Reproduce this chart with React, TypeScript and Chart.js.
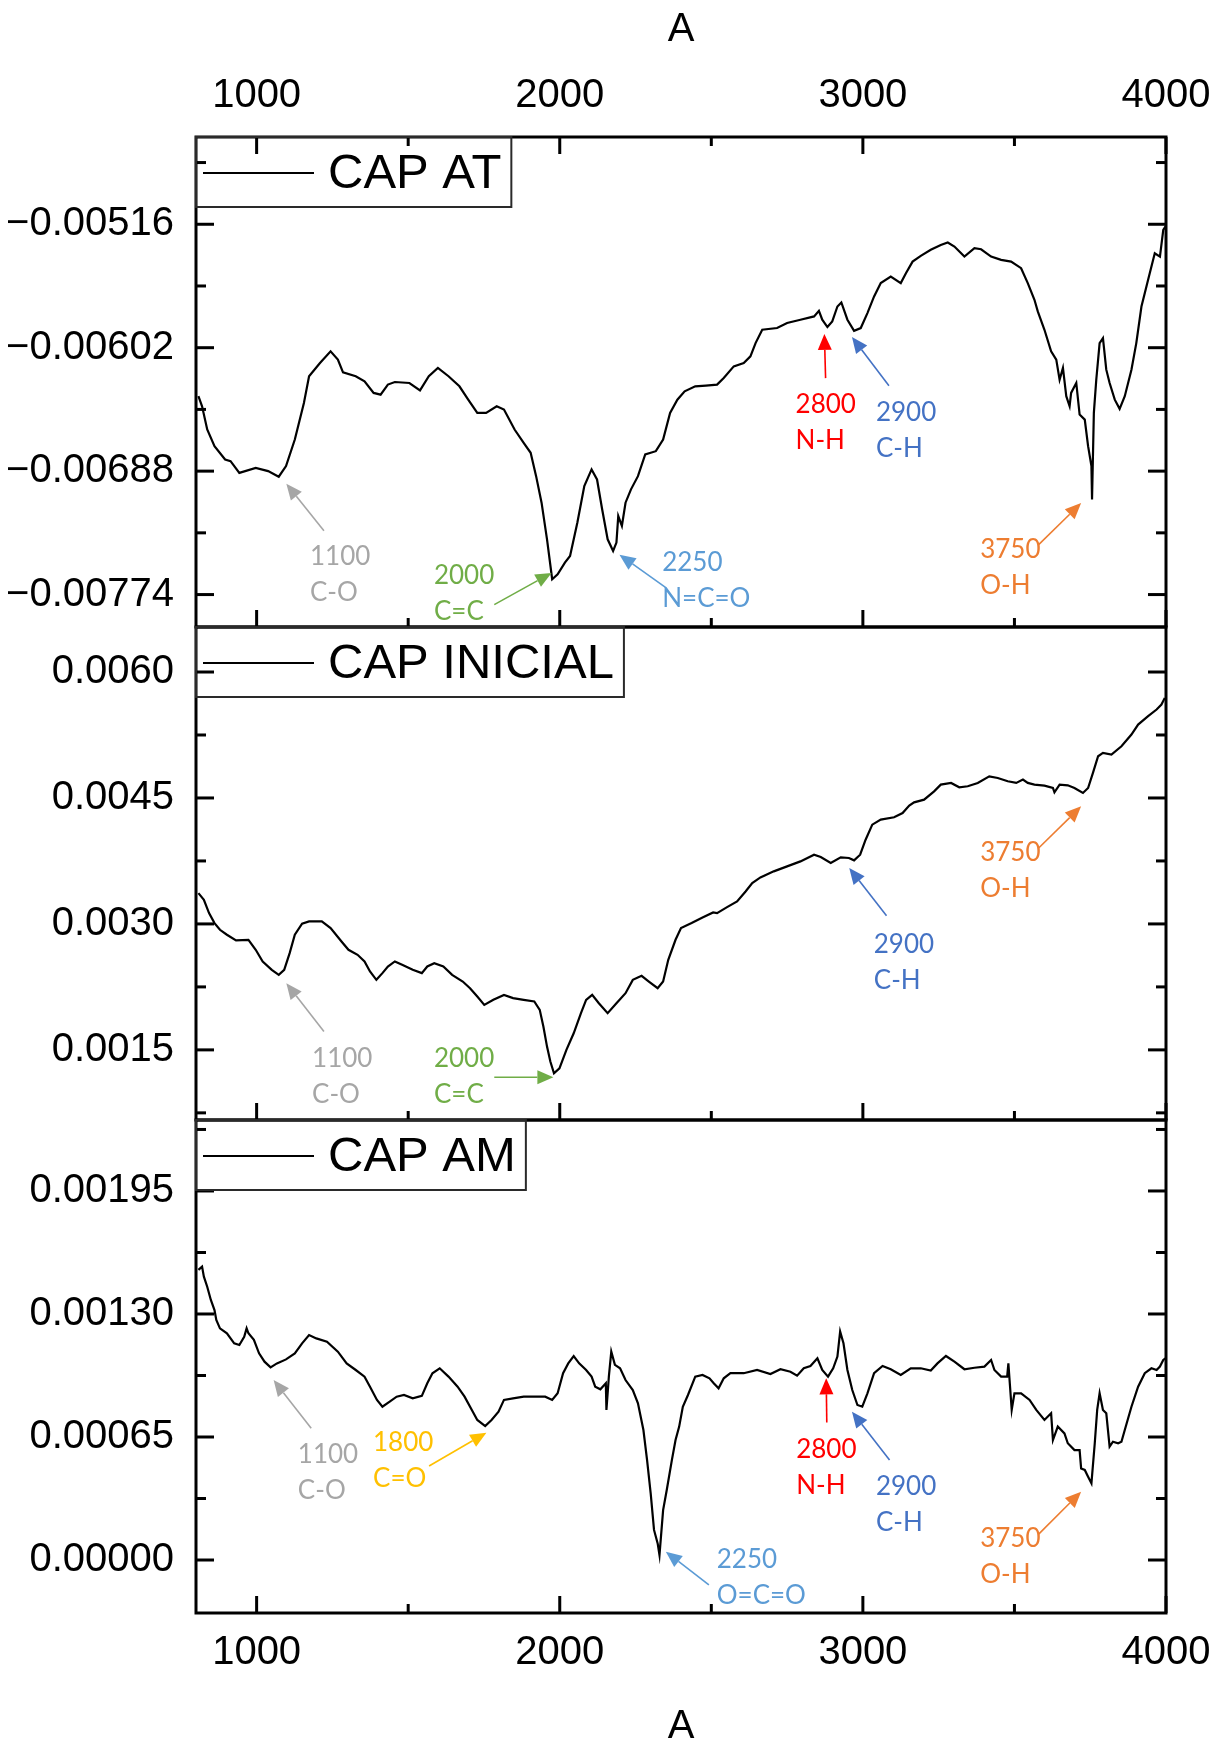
import { useEffect, useRef } from 'react';
import { Chart, registerables } from 'chart.js';

Chart.register(...registerables);

const AXIS_FONT = '"Liberation Sans", Arial, sans-serif';
const NOTE_FONT = 'Lato, "Open Sans", sans-serif';

// Shared wavenumber axis
const xRange = [800, 4000];
const xMajorTicks = [1000, 2000, 3000, 4000];
const xMinorTicks = [1500, 2500, 3500];

// Annotation colours
const GRAY = '#A6A6A6';
const GREEN = '#70AD47';
const LIGHT_BLUE = '#5B9BD5';
const RED = '#FF0000';
const BLUE = '#4472C4';
const ORANGE = '#ED7D31';
const YELLOW = '#FFC000';

// ---- CAP AT ----
const capAtWavenumber = [
  808, 820, 837, 861, 896, 914, 943, 997, 1038, 1073,
  1097, 1126, 1156, 1173, 1209, 1244, 1268, 1285, 1327, 1356,
  1386, 1409, 1433, 1456, 1504, 1539, 1568, 1598, 1633, 1669,
  1698, 1728, 1757, 1792, 1816, 1851, 1881, 1904, 1922, 1940,
  1958, 1975, 1993, 2017, 2034, 2058, 2081, 2105, 2123, 2140,
  2158, 2176, 2187, 2193, 2205, 2217, 2235, 2258, 2282, 2317,
  2341, 2364, 2388, 2412, 2447, 2482, 2519, 2541, 2574, 2607,
  2629, 2646, 2668, 2717, 2750, 2794, 2839, 2855, 2866, 2883,
  2899, 2916, 2929, 2949, 2971, 2993, 3015, 3037, 3059, 3092,
  3125, 3142, 3164, 3191, 3224, 3257, 3280, 3302, 3335, 3368,
  3390, 3423, 3456, 3489, 3522, 3544, 3566, 3577, 3599, 3621,
  3638, 3649, 3660, 3671, 3682, 3687, 3704, 3715, 3732, 3743,
  3754, 3756, 3762, 3770, 3781, 3792, 3803, 3814, 3831, 3847,
  3864, 3886, 3902, 3919, 3941, 3963, 3980, 3991, 3998,
];
const capAtAbsorbance = [
  -0.006358, -0.006428, -0.006590, -0.006706, -0.006799, -0.006810, -0.006892, -0.006857, -0.006880, -0.006919,
  -0.006845, -0.006660, -0.006405, -0.006219, -0.006127, -0.006045, -0.006103, -0.006192, -0.006219, -0.006254,
  -0.006335, -0.006347, -0.006277, -0.006259, -0.006266, -0.006317, -0.006219, -0.006161, -0.006219, -0.006289,
  -0.006382, -0.006474, -0.006474, -0.006428, -0.006451, -0.006590, -0.006683, -0.006752, -0.006915, -0.007100,
  -0.007355, -0.007633, -0.007599, -0.007517, -0.007471, -0.007239, -0.006984, -0.006868, -0.006938, -0.007147,
  -0.007355, -0.007436, -0.007378, -0.007193, -0.007262, -0.007100, -0.007007, -0.006915, -0.006764, -0.006741,
  -0.006660, -0.006474, -0.006382, -0.006324, -0.006289, -0.006284, -0.006277, -0.006231, -0.006150, -0.006127,
  -0.006080, -0.005988, -0.005895, -0.005883, -0.005848, -0.005825, -0.005802, -0.005763, -0.005825, -0.005876,
  -0.005837, -0.005733, -0.005705, -0.005825, -0.005902, -0.005883, -0.005779, -0.005663, -0.005570, -0.005524,
  -0.005570, -0.005501, -0.005420, -0.005380, -0.005338, -0.005304, -0.005287, -0.005315, -0.005385, -0.005327,
  -0.005334, -0.005385, -0.005408, -0.005420, -0.005466, -0.005570, -0.005686, -0.005767, -0.005895, -0.006045,
  -0.006103, -0.006243, -0.006161, -0.006358, -0.006428, -0.006335, -0.006266, -0.006486, -0.006521, -0.006706,
  -0.006845, -0.007077, -0.006474, -0.006243, -0.005988, -0.005953, -0.006173, -0.006266, -0.006382, -0.006446,
  -0.006358, -0.006173, -0.005988, -0.005733, -0.005547, -0.005362, -0.005385, -0.005199, -0.005176,
];
const capAtTicks = [-0.00516, -0.00602, -0.00688, -0.00774];
const capAtMinorTicks = [-0.00473, -0.00559, -0.00645, -0.00731];

// ---- CAP INICIAL ----
const capInicialWavenumber = [
  808, 826, 843, 861, 879, 902, 932, 973, 997, 1020,
  1050, 1073, 1091, 1109, 1126, 1150, 1173, 1215, 1244, 1280,
  1303, 1333, 1356, 1374, 1395, 1415, 1433, 1456, 1480, 1515,
  1545, 1563, 1586, 1616, 1645, 1680, 1704, 1728, 1751, 1781,
  1816, 1846, 1881, 1916, 1934, 1946, 1958, 1969, 1981, 1999,
  2022, 2046, 2070, 2087, 2107, 2129, 2158, 2187, 2217, 2241,
  2270, 2294, 2323, 2341, 2358, 2382, 2400, 2435, 2471, 2506,
  2519, 2552, 2585, 2613, 2635, 2662, 2706, 2750, 2794, 2839,
  2861, 2894, 2927, 2954, 2971, 2991, 3009, 3031, 3059, 3103,
  3131, 3153, 3169, 3202, 3235, 3257, 3291, 3318, 3346, 3379,
  3417, 3445, 3478, 3506, 3528, 3544, 3566, 3599, 3627, 3632,
  3649, 3676, 3698, 3726, 3743, 3759, 3776, 3792, 3820, 3853,
  3886, 3908, 3941, 3969, 3985, 3996,
];
const capInicialAbsorbance = [
  0.003367, 0.003288, 0.003129, 0.003010, 0.002930, 0.002871, 0.002803, 0.002811, 0.002692, 0.002553,
  0.002453, 0.002394, 0.002453, 0.002652, 0.002871, 0.003002, 0.003030, 0.003030, 0.002950, 0.002791,
  0.002692, 0.002632, 0.002553, 0.002434, 0.002334, 0.002414, 0.002493, 0.002553, 0.002513, 0.002453,
  0.002414, 0.002493, 0.002533, 0.002493, 0.002394, 0.002314, 0.002235, 0.002135, 0.002036, 0.002096,
  0.002155, 0.002116, 0.002096, 0.002076, 0.001977, 0.001778, 0.001539, 0.001361, 0.001221, 0.001281,
  0.001500, 0.001698, 0.001937, 0.002096, 0.002155, 0.002056, 0.001937, 0.002056, 0.002175, 0.002334,
  0.002382, 0.002314, 0.002235, 0.002314, 0.002573, 0.002811, 0.002950, 0.003010, 0.003077, 0.003137,
  0.003129, 0.003200, 0.003268, 0.003387, 0.003487, 0.003554, 0.003626, 0.003685, 0.003745, 0.003824,
  0.003797, 0.003725, 0.003793, 0.003785, 0.003757, 0.003824, 0.004003, 0.004182, 0.004242, 0.004270,
  0.004321, 0.004409, 0.004448, 0.004480, 0.004579, 0.004659, 0.004679, 0.004627, 0.004639, 0.004679,
  0.004758, 0.004738, 0.004699, 0.004679, 0.004719, 0.004679, 0.004659, 0.004647, 0.004619, 0.004568,
  0.004659, 0.004651, 0.004619, 0.004560, 0.004619, 0.004798, 0.004997, 0.005036, 0.005017, 0.005116,
  0.005255, 0.005374, 0.005474, 0.005553, 0.005613, 0.005692,
];
const capInicialTicks = [0.0015, 0.003, 0.0045, 0.006];
const capInicialMinorTicks = [0.00075, 0.00225, 0.00375, 0.00525];

// ---- CAP AM ----
const capAmWavenumber = [
  808, 820, 826, 837, 849, 861, 867, 879, 902, 926,
  943, 959, 967, 973, 991, 1008, 1026, 1046, 1067, 1097,
  1126, 1150, 1173, 1197, 1232, 1268, 1297, 1327, 1356, 1374,
  1397, 1415, 1439, 1462, 1486, 1515, 1545, 1563, 1580, 1604,
  1633, 1663, 1686, 1710, 1728, 1754, 1775, 1798, 1816, 1846,
  1881, 1916, 1952, 1975, 1993, 2011, 2028, 2046, 2064, 2087,
  2105, 2117, 2134, 2152, 2154, 2162, 2170, 2182, 2199, 2217,
  2241, 2258, 2276, 2288, 2300, 2311, 2323, 2329, 2341, 2353,
  2370, 2382, 2394, 2406, 2423, 2447, 2471, 2494, 2508, 2524,
  2541, 2563, 2607, 2651, 2695, 2728, 2761, 2783, 2805, 2827,
  2850, 2866, 2885, 2902, 2916, 2925, 2936, 2949, 2965, 2982,
  2998, 3015, 3037, 3065, 3092, 3125, 3158, 3191, 3224, 3246,
  3274, 3302, 3335, 3368, 3401, 3423, 3434, 3456, 3476, 3480,
  3491, 3500, 3522, 3550, 3572, 3599, 3621, 3627, 3643, 3665,
  3676, 3698, 3715, 3720, 3732, 3743, 3754, 3765, 3773, 3781,
  3792, 3803, 3814, 3825, 3842, 3853, 3864, 3886, 3908, 3930,
  3952, 3969, 3980, 3991, 3998,
];
const capAmAbsorbance = [
  0.001533, 0.001550, 0.001497, 0.001444, 0.001374, 0.001321, 0.001268, 0.001224, 0.001198, 0.001145,
  0.001136, 0.001180, 0.001224, 0.001198, 0.001163, 0.001092, 0.001048, 0.001018, 0.001039, 0.001060,
  0.001092, 0.001145, 0.001189, 0.001171, 0.001154, 0.001101, 0.001039, 0.001004, 0.000969, 0.000916,
  0.000846, 0.000810, 0.000837, 0.000863, 0.000872, 0.000854, 0.000867, 0.000934, 0.000987, 0.001013,
  0.000969, 0.000916, 0.000863, 0.000793, 0.000740, 0.000708, 0.000740, 0.000784, 0.000846, 0.000854,
  0.000863, 0.000863, 0.000863, 0.000846, 0.000881, 0.000987, 0.001039, 0.001078, 0.001039, 0.001004,
  0.000969, 0.000916, 0.000902, 0.000934, 0.000793, 0.000969, 0.001101, 0.001031, 0.001013, 0.000951,
  0.000898, 0.000828, 0.000687, 0.000529, 0.000352, 0.000159, 0.000088, 0.000026, 0.000264, 0.000370,
  0.000529, 0.000634, 0.000705, 0.000810, 0.000872, 0.000969, 0.000978, 0.000960, 0.000934, 0.000907,
  0.000960, 0.000987, 0.000987, 0.001004, 0.000983, 0.001008, 0.000995, 0.000974, 0.001013, 0.001025,
  0.001066, 0.001004, 0.000969, 0.001013, 0.001075, 0.001207, 0.001145, 0.001004, 0.000898, 0.000819,
  0.000810, 0.000881, 0.000987, 0.001025, 0.001008, 0.000978, 0.001013, 0.001013, 0.001001, 0.001039,
  0.001078, 0.001048, 0.001008, 0.001016, 0.001022, 0.001057, 0.001004, 0.000969, 0.000969, 0.001039,
  0.000793, 0.000881, 0.000881, 0.000846, 0.000793, 0.000740, 0.000775, 0.000634, 0.000705, 0.000669,
  0.000617, 0.000581, 0.000581, 0.000484, 0.000476, 0.000440, 0.000405, 0.000617, 0.000793, 0.000881,
  0.000793, 0.000775, 0.000599, 0.000625, 0.000617, 0.000625, 0.000687, 0.000810, 0.000916, 0.000987,
  0.001013, 0.001004, 0.001022, 0.001057, 0.001066,
];
const capAmTicks = [0, 0.00065, 0.0013, 0.00195];
const capAmMinorTicks = [0.000325, 0.000975, 0.001625, 0.002275];

type Pt = [number, number];
interface Band {
  band: string;
  group: string;
  color: string;
  text: Pt;
  from: Pt;
  to: Pt;
}

// Band assignments: text anchor and arrow, in (wavenumber, absorbance)
const capAtBands: Band[] = [
  { band: '1100', group: 'C-O', color: GRAY, text: [1176, -0.007474], from: [1222, -0.007295], to: [1098, -0.006968] },
  { band: '2000', group: 'C=C', color: GREEN, text: [1585, -0.007608], from: [1784, -0.00781], to: [1973, -0.007589] },
  { band: '2250', group: 'N=C=O', color: LIGHT_BLUE, text: [2338, -0.007517], from: [2350, -0.007691], to: [2197, -0.007462] },
  { band: '2800', group: 'N-H', color: RED, text: [2778, -0.006418], from: [2877, -0.006232], to: [2873, -0.005924] },
  { band: '2900', group: 'C-H', color: BLUE, text: [3043, -0.006471], from: [3086, -0.006285], to: [2964, -0.005946] },
  { band: '3750', group: 'O-H', color: ORANGE, text: [3387, -0.007427], from: [3580, -0.007392], to: [3720, -0.007102] },
];
const capInicialBands: Band[] = [
  { band: '1100', group: 'C-O', color: GRAY, text: [1183, 0.001401], from: [1222, 0.001718], to: [1098, 0.002295] },
  { band: '2000', group: 'C=C', color: GREEN, text: [1585, 0.001401], from: [1784, 0.001174], to: [1979, 0.001174] },
  { band: '2900', group: 'C-H', color: BLUE, text: [3036, 0.002751], from: [3078, 0.003097], to: [2955, 0.003666] },
  { band: '3750', group: 'O-H', color: ORANGE, text: [3387, 0.003844], from: [3580, 0.003904], to: [3720, 0.0044] },
];
const capAmBands: Band[] = [
  { band: '1100', group: 'C-O', color: GRAY, text: [1136, 0.000559], from: [1180, 0.000696], to: [1056, 0.000951] },
  { band: '1800', group: 'C=O', color: YELLOW, text: [1384, 0.000618], from: [1569, 0.000497], to: [1758, 0.000673] },
  { band: '2250', group: 'O=C=O', color: LIGHT_BLUE, text: [2518, 0.0], from: [2492, -0.000132], to: [2350, 0.000044] },
  { band: '2800', group: 'N-H', color: RED, text: [2780, 0.000581], from: [2881, 0.000726], to: [2879, 0.00096] },
  { band: '2900', group: 'C-H', color: BLUE, text: [3043, 0.000387], from: [3088, 0.000528], to: [2964, 0.000784] },
  { band: '3750', group: 'O-H', color: ORANGE, text: [3387, 0.000115], from: [3580, 0.000137], to: [3720, 0.000361] },
];

interface PanelSpec {
  label: string;
  x: number[];
  y: number[];
  yMin: number;
  yMax: number;
  yTicks: number[];
  yMinor: number[];
  decimals: number;
  bands: Band[];
  xAxis: 'top' | 'bottom' | 'none';
  canvasTop: number;
  canvasHeight: number;
  padTop: number;
  padBottom: number;
  axisHeight: number;
}

const panels: PanelSpec[] = [
  {
    label: 'CAP AT', x: capAtWavenumber, y: capAtAbsorbance,
    yMin: -0.007966, yMax: -0.004552, yTicks: capAtTicks, yMinor: capAtMinorTicks, decimals: 5,
    bands: capAtBands, xAxis: 'top', canvasTop: 0, canvasHeight: 640, padTop: 0, padBottom: 13, axisHeight: 137,
  },
  {
    label: 'CAP INICIAL', x: capInicialWavenumber, y: capInicialAbsorbance,
    yMin: 0.000665, yMax: 0.006536, yTicks: capInicialTicks, yMinor: capInicialMinorTicks, decimals: 4,
    bands: capInicialBands, xAxis: 'none', canvasTop: 600, canvasHeight: 540, padTop: 27, padBottom: 20, axisHeight: 0,
  },
  {
    label: 'CAP AM', x: capAmWavenumber, y: capAmAbsorbance,
    yMin: -0.00028, yMax: 0.002325, yTicks: capAmTicks, yMinor: capAmMinorTicks, decimals: 5,
    bands: capAmBands, xAxis: 'bottom', canvasTop: 1100, canvasHeight: 647, padTop: 20, padBottom: 0, axisHeight: 134,
  },
];

function formatValue(v: number, decimals: number): string {
  const s = Math.abs(v).toFixed(decimals);
  return v < -1e-12 ? '\u2212' + s : s;
}

function framePlugin(spec: PanelSpec) {
  return {
    id: 'spectrumFrame',
    afterDraw(chart: any) {
      const { ctx, chartArea: a, scales } = chart;
      const xs = scales.x;
      const ys = scales.y;
      ctx.save();

      const seg = (x1: number, y1: number, x2: number, y2: number) => {
        ctx.beginPath();
        ctx.moveTo(x1, y1);
        ctx.lineTo(x2, y2);
        ctx.stroke();
      };

      // inward tick marks
      ctx.strokeStyle = '#000';
      ctx.lineWidth = 3;
      const yTickSets: [number[], number][] = [[spec.yTicks, 18], [spec.yMinor, 10]];
      for (const [vals, len] of yTickSets) {
        for (const v of vals) {
          const py = ys.getPixelForValue(v);
          if (py < a.top || py > a.bottom) continue;
          seg(a.left, py, a.left + len, py);
          seg(a.right, py, a.right - len, py);
        }
      }
      const xTickSets: [number[], number][] = [[xMajorTicks, 17], [xMinorTicks, 9]];
      for (const [vals, len] of xTickSets) {
        for (const v of vals) {
          const px = xs.getPixelForValue(v);
          seg(px, a.bottom, px, a.bottom - len);
          if (spec.xAxis === 'top') seg(px, a.top, px, a.top + len);
        }
      }

      // frame
      ctx.lineWidth = 3;
      ctx.strokeRect(a.left, a.top, a.right - a.left, a.bottom - a.top);

      // legend box
      ctx.font = `49px ${AXIS_FONT}`;
      const tw = ctx.measureText(spec.label).width;
      const bw = 132 + tw + 10;
      const bh = 70;
      ctx.lineWidth = 2;
      ctx.strokeStyle = '#2a2a2a';
      ctx.strokeRect(a.left, a.top, bw, bh);
      ctx.strokeStyle = '#000';
      ctx.lineWidth = 2.2;
      seg(a.left + 7, a.top + 36, a.left + 118, a.top + 36);
      ctx.fillStyle = '#000';
      ctx.textAlign = 'left';
      ctx.textBaseline = 'middle';
      ctx.fillText(spec.label, a.left + 132, a.top + 37);

      // band assignments
      ctx.font = `26px ${NOTE_FONT}`;
      for (const b of spec.bands) {
        const tx = xs.getPixelForValue(b.text[0]);
        const ty = ys.getPixelForValue(b.text[1]);
        ctx.fillStyle = b.color;
        ctx.fillText(b.band, tx, ty);
        ctx.fillText(b.group, tx, ty + 36);

        const fx = xs.getPixelForValue(b.from[0]);
        const fy = ys.getPixelForValue(b.from[1]);
        const hx = xs.getPixelForValue(b.to[0]);
        const hy = ys.getPixelForValue(b.to[1]);
        const ang = Math.atan2(hy - fy, hx - fx);
        const head = 16;
        const half = 7;
        const bx = hx - head * Math.cos(ang);
        const by = hy - head * Math.sin(ang);
        ctx.strokeStyle = b.color;
        ctx.lineWidth = 1.6;
        seg(fx, fy, bx, by);
        ctx.beginPath();
        ctx.moveTo(hx, hy);
        ctx.lineTo(bx + half * Math.sin(ang), by - half * Math.cos(ang));
        ctx.lineTo(bx - half * Math.sin(ang), by + half * Math.cos(ang));
        ctx.closePath();
        ctx.fill();
      }

      ctx.restore();
    },
  };
}

function SpectrumPanel({ spec }: { spec: PanelSpec }) {
  const ref = useRef<HTMLCanvasElement | null>(null);

  useEffect(() => {
    if (!ref.current) return;
    const tickFont = { family: AXIS_FONT, size: 40, lineHeight: 1.2 };
    const chart = new Chart(ref.current, {
      type: 'line',
      data: {
        datasets: [
          {
            label: spec.label,
            data: spec.x.map((w, i) => ({ x: w, y: spec.y[i] })),
            borderColor: '#000',
            borderWidth: 2.2,
            pointRadius: 0,
            tension: 0,
            fill: false,
          },
        ],
      },
      options: {
        animation: false,
        responsive: false,
        maintainAspectRatio: false,
        events: [],
        layout: { padding: { left: 0, right: 53, top: spec.padTop, bottom: spec.padBottom } },
        plugins: { legend: { display: false }, tooltip: { enabled: false } },
        scales: {
          x: {
            type: 'linear',
            position: spec.xAxis === 'top' ? 'top' : 'bottom',
            display: spec.xAxis !== 'none',
            min: xRange[0],
            max: xRange[1],
            grid: { display: false, drawTicks: false },
            border: { display: false },
            ticks: {
              font: tickFont,
              color: '#000',
              padding: spec.xAxis === 'top' ? 17 : 16,
              maxRotation: 0,
              autoSkip: false,
              callback: (v: any) => String(v),
            },
            title: {
              display: spec.xAxis !== 'none',
              text: 'A',
              color: '#000',
              font: { family: AXIS_FONT, size: 40, lineHeight: 1.0 },
              padding: { top: 10, bottom: 0 },
            },
            afterBuildTicks: (s: any) => {
              s.ticks = xMajorTicks.map((value) => ({ value }));
            },
            afterFit: (s: any) => {
              s.height = spec.axisHeight;
              s.paddingLeft = 0;
              s.paddingRight = 0;
            },
          },
          y: {
            type: 'linear',
            position: 'left',
            min: spec.yMin,
            max: spec.yMax,
            grid: { display: false, drawTicks: false },
            border: { display: false },
            ticks: {
              font: tickFont,
              color: '#000',
              padding: 22,
              autoSkip: false,
              callback: (v: any) => formatValue(Number(v), spec.decimals),
            },
            afterBuildTicks: (s: any) => {
              s.ticks = spec.yTicks.map((value) => ({ value }));
            },
            afterFit: (s: any) => {
              s.width = 196;
              s.paddingTop = 0;
              s.paddingBottom = 0;
            },
          },
        },
      } as any,
      plugins: [framePlugin(spec)],
    });
    return () => chart.destroy();
  }, [spec]);

  return (
    <canvas
      ref={ref}
      width={1219}
      height={spec.canvasHeight}
      style={{ position: 'absolute', left: 0, top: spec.canvasTop, width: 1219, height: spec.canvasHeight, display: 'block' }}
    />
  );
}

export default function App() {
  return (
    <div style={{ position: 'absolute', left: 0, top: 0, width: 1219, height: 1747, background: '#fff', overflow: 'hidden' }}>
      {panels.map((p) => (
        <SpectrumPanel key={p.label} spec={p} />
      ))}
    </div>
  );
}
